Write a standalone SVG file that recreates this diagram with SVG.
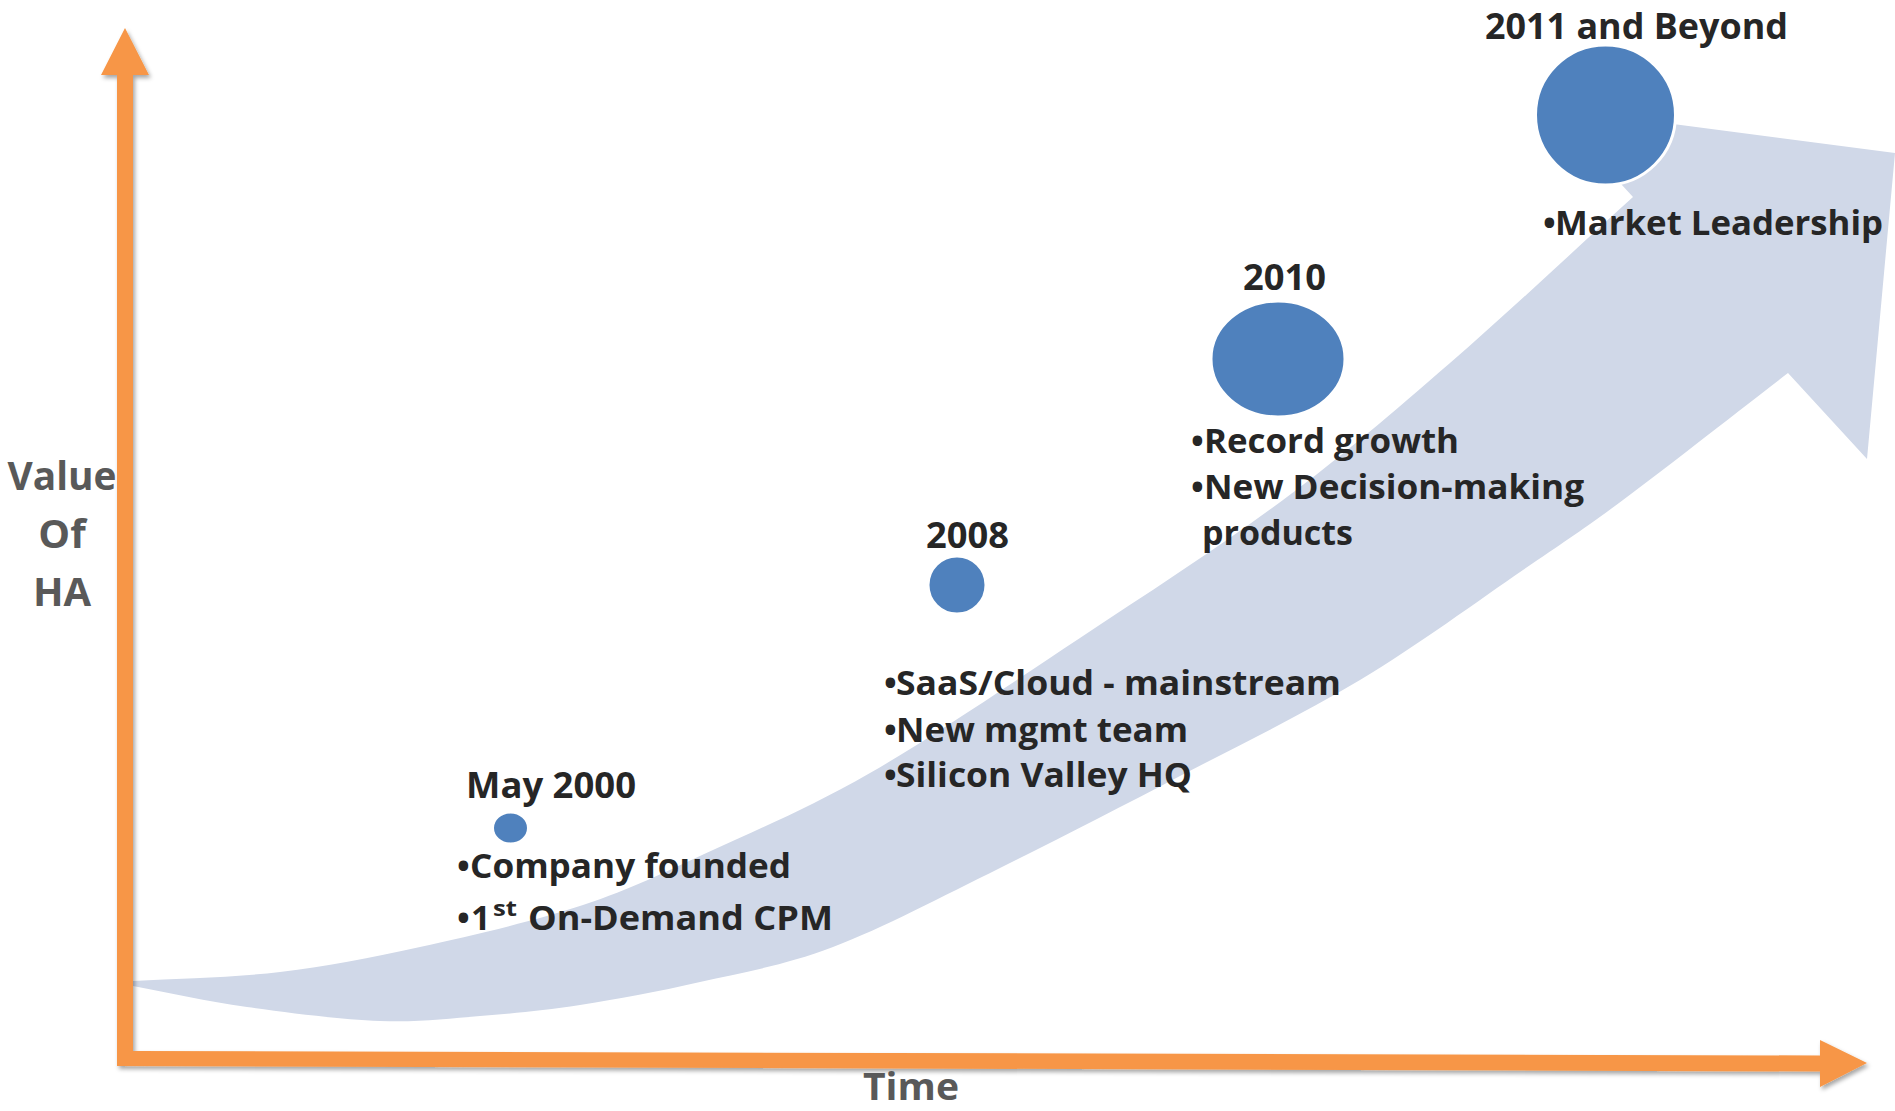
<svg xmlns="http://www.w3.org/2000/svg" width="1895" height="1111" viewBox="0 0 1895 1111">
<defs>
<style>
.t{font-family:"Open Sans","Liberation Sans",sans-serif;font-weight:700;fill:#262626;}
.b{font-size:34px;}
.y{font-size:36px;}
.ax{font-family:"Open Sans","Liberation Sans",sans-serif;font-weight:700;fill:#595959;font-size:40px;}
.dot{fill:#4F81BD;stroke:#FFFFFF;stroke-width:3;}
.rib{fill:#D0D8E8;}
.axis{fill:#F79646;filter:url(#sh);}
</style>
<filter id="sh" x="-5%" y="-5%" width="110%" height="110%">
<feDropShadow dx="2" dy="3" stdDeviation="2" flood-color="#000" flood-opacity="0.35"/>
</filter>
</defs>
<rect width="1895" height="1111" fill="#FFFFFF"/>
<g id="connectors">
<path id="growth-arrow" class="rib" d="M133,981 C182,978 232,977.7 280,972 C327.8,966.3 369.5,958.2 420,947 C470.5,935.8 534.2,921.2 583,905 C631.8,888.8 665.2,872 713,850 C760.8,828 808.8,808 870,773 C931.2,738 1011.2,683.5 1080,638 C1148.8,592.5 1221.3,545.8 1283,500 C1344.7,454.2 1391.7,413.5 1450,363 C1508.3,312.5 1572,252.3 1633,197 L1551,108 L1895,153 L1867,459 L1788,373 C1733,415.3 1667.2,467.2 1623,500 C1578.8,532.8 1566.8,540 1523,570 C1479.2,600 1417.2,645.7 1360,680 C1302.8,714.3 1240,744.7 1180,776 C1120,807.3 1057.8,839.5 1000,868 C942.2,896.5 883,928 833,947 C783,966 742.2,972.3 700,982 C657.8,991.7 616.7,999.3 580,1005 C543.3,1010.7 513.3,1013.3 480,1016 C446.7,1018.7 418.8,1022.5 380,1021 C341.2,1019.5 288.2,1012.8 247,1007 C205.8,1001.2 171,993 133,986 Z"/>
<path id="axes" class="axis" d="M117,1066 L117,75 L101,75 L125,28 L149,75 L133,75 L133,1051 L1820,1055.5 L1820,1040 L1867,1063 L1820,1087 L1820,1071.5 Z"/>
</g>
<g id="axis-labels">
<text class="ax" text-anchor="middle" x="62" y="490" textLength="109" lengthAdjust="spacingAndGlyphs">Value</text>
<text class="ax" text-anchor="middle" x="62" y="548">Of</text>
<text class="ax" text-anchor="middle" x="62" y="606">HA</text>
<text class="ax" x="863" y="1100" font-size="38" style="font-size:38px" textLength="96" lengthAdjust="spacingAndGlyphs">Time</text>
</g>
<g id="node-may2000">
<ellipse class="dot" cx="510.5" cy="828" rx="18" ry="16"/>
<text class="t y" x="466" y="798" textLength="170" lengthAdjust="spacingAndGlyphs">May 2000</text>
<text class="t b" x="457" y="878">•</text>
<text class="t b" x="470" y="878" textLength="321" lengthAdjust="spacingAndGlyphs">Company founded</text>
<text class="t b" x="457" y="930">•</text>
<text class="t b" x="471" y="930">1</text>
<text class="t" x="493" y="916" font-size="22" textLength="24" lengthAdjust="spacingAndGlyphs">st</text>
<text class="t b" x="528" y="930" textLength="305" lengthAdjust="spacingAndGlyphs">On-Demand CPM</text>
</g>
<g id="node-2008">
<circle class="dot" cx="957" cy="585" r="29"/>
<text class="t y" x="926" y="548" textLength="83" lengthAdjust="spacingAndGlyphs">2008</text>
<text class="t b" x="884" y="695">•</text>
<text class="t b" x="896" y="695" textLength="445" lengthAdjust="spacingAndGlyphs">SaaS/Cloud - mainstream</text>
<text class="t b" x="884" y="742">•</text>
<text class="t b" x="896" y="742" textLength="292" lengthAdjust="spacingAndGlyphs">New mgmt team</text>
<text class="t b" x="884" y="787">•</text>
<text class="t b" x="896" y="787" textLength="296" lengthAdjust="spacingAndGlyphs">Silicon Valley HQ</text>
</g>
<g id="node-2010">
<ellipse class="dot" cx="1278" cy="359" rx="67" ry="58"/>
<text class="t y" x="1243" y="290" textLength="83" lengthAdjust="spacingAndGlyphs">2010</text>
<text class="t b" x="1191" y="453">•</text>
<text class="t b" x="1204" y="453" textLength="255" lengthAdjust="spacingAndGlyphs">Record growth</text>
<text class="t b" x="1191" y="499">•</text>
<text class="t b" x="1204" y="499" textLength="380" lengthAdjust="spacingAndGlyphs">New Decision-making</text>
<text class="t b" x="1202" y="545" textLength="151" lengthAdjust="spacingAndGlyphs">products</text>
</g>
<g id="node-2011">
<circle class="dot" cx="1605.5" cy="115" r="70"/>
<text class="t y" x="1485" y="39" textLength="303" lengthAdjust="spacingAndGlyphs">2011 and Beyond</text>
<text class="t b" x="1543" y="235">•</text>
<text class="t b" x="1555" y="235" textLength="328" lengthAdjust="spacingAndGlyphs">Market Leadership</text>
</g>
</svg>
